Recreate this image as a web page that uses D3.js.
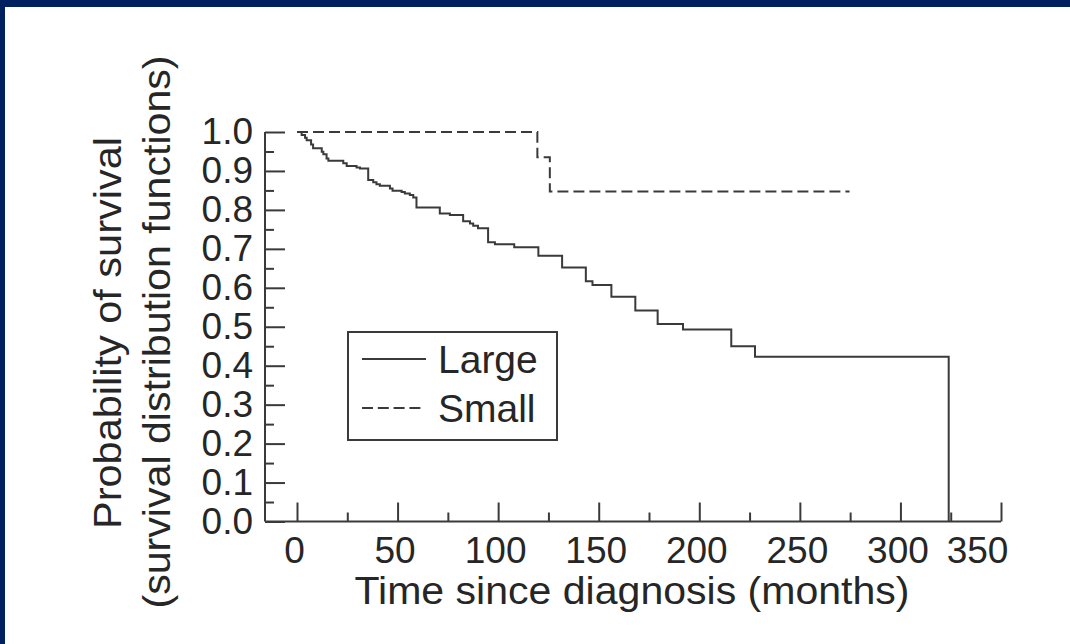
<!DOCTYPE html>
<html>
<head>
<meta charset="utf-8">
<script src="https://cdn.jsdelivr.net/npm/d3@7"></script>
<style>
  html, body { margin: 0; padding: 0; background: #fff; }
  svg { display: block; }
  text { font-family: "Liberation Sans", Arial, sans-serif; fill: #262626; }
</style>
</head>
<body>
<svg id="chart" width="1070" height="644"></svg>
<script>
// ---- data ----
const largeTimes = [0, 2.3, 4.0, 4.8, 7.0, 8.0, 12.3, 13.1, 14.7, 15.6, 23.0, 24.7, 29.6, 31.3, 35.4, 37.9, 39.5, 41.2, 46.2, 47.5, 52.0, 53.6, 56.1, 57.8, 59.4, 71.0, 76.0, 82.6, 86.0, 87.6, 90.0, 95.0, 98.4, 108.0, 120.0, 131.8, 143.6, 146.9, 156.3, 168.2, 179.3, 191.9, 215.9, 227.7, 324.0];
const largeSurv  = [1.0, 0.992, 0.985, 0.979, 0.968, 0.958, 0.949, 0.943, 0.932, 0.926, 0.920, 0.913, 0.909, 0.906, 0.877, 0.871, 0.866, 0.862, 0.855, 0.849, 0.846, 0.842, 0.838, 0.832, 0.806, 0.791, 0.787, 0.771, 0.765, 0.759, 0.753, 0.717, 0.712, 0.704, 0.682, 0.652, 0.617, 0.607, 0.577, 0.542, 0.507, 0.493, 0.450, 0.423, 0.0];
const smallTimes = [0, 119.5, 125.7, 274.7];
const smallSurv  = [1.0, 0.935, 0.847, 0.847];

const xTickValues = [0, 50, 100, 150, 200, 250, 300, 350];
const xTickLabels = ["0", "50", "100", "150", "200", "250", "300", "350"];
const xMinorTicks = [25, 75, 125, 175, 225, 275, 325];
const yTickValues = [0, 0.1, 0.2, 0.3, 0.4, 0.5, 0.6, 0.7, 0.8, 0.9, 1.0];
const yTickLabels = ["0.0", "0.1", "0.2", "0.3", "0.4", "0.5", "0.6", "0.7", "0.8", "0.9", "1.0"];
const yMinorTicks = [0.05, 0.15, 0.25, 0.35, 0.45, 0.55, 0.65, 0.75, 0.85, 0.95];
const seriesNames = ["Large", "Small"];
const xTitle = "Time since diagnosis (months)";
const yTitle1 = "Probability of survival";
const yTitle2 = "(survival distribution functions)";

// ---- layout ----
const svg = d3.select("#chart");
const ink = "#3a3a3a";
const font = '"Liberation Sans", Arial, sans-serif';
const axisX0 = 265;              // y-axis position
const x = d3.scaleLinear().domain([0, 350]).range([297, 1001]);
const y = d3.scaleLinear().domain([0, 1]).range([521.5, 132]);

// navy frame (top & left)
svg.append("rect").attr("x", 0).attr("y", 0).attr("width", 1070).attr("height", 7).attr("fill", "#00205f");
svg.append("rect").attr("x", 0).attr("y", 0).attr("width", 5).attr("height", 644).attr("fill", "#00205f");

// ---- x axis ----
const gx = svg.append("g").attr("transform", `translate(0,${y(0)})`);
gx.append("line").attr("x1", axisX0).attr("x2", x(350)).attr("y1", 0).attr("y2", 0)
  .attr("stroke", ink).attr("stroke-width", 2);
const xAxis = d3.axisBottom(x).tickValues(xTickValues)
  .tickFormat((d, i) => xTickLabels[i]).tickSizeInner(-19).tickSizeOuter(0).tickPadding(15);
const gxa = gx.append("g").call(xAxis);
gxa.select(".domain").remove();
gxa.selectAll(".tick line").attr("stroke", ink).attr("stroke-width", 2);
gxa.selectAll(".tick text").attr("font-size", 37).attr("fill", "#262626")
  .style("font-family", font)
  .attr("dx", d => d === 350 ? -24 : -3);
const gxm = gx.append("g").call(d3.axisBottom(x).tickValues(xMinorTicks).tickFormat("").tickSizeInner(-9).tickSizeOuter(0));
gxm.select(".domain").remove();
gxm.selectAll(".tick line").attr("stroke", ink).attr("stroke-width", 2);

// ---- y axis ----
const gy = svg.append("g").attr("transform", `translate(${axisX0},0)`);
gy.append("line").attr("x1", 0).attr("x2", 0).attr("y1", y(0)).attr("y2", y(1))
  .attr("stroke", ink).attr("stroke-width", 2);
const yAxis = d3.axisLeft(y).tickValues(yTickValues)
  .tickFormat((d, i) => yTickLabels[i]).tickSizeInner(-20).tickSizeOuter(0).tickPadding(12);
const gya = gy.append("g").call(yAxis);
gya.select(".domain").remove();
gya.selectAll(".tick line").attr("stroke", ink).attr("stroke-width", 2);
gya.selectAll(".tick text").attr("font-size", 37).attr("fill", "#262626")
  .style("font-family", font);
const gym = gy.append("g").call(d3.axisLeft(y).tickValues(yMinorTicks).tickFormat("").tickSizeInner(-9).tickSizeOuter(0));
gym.select(".domain").remove();
gym.selectAll(".tick line").attr("stroke", ink).attr("stroke-width", 2);

// ---- survival curves ----
const line = d3.line().x(d => x(d[0])).y(d => y(d[1])).curve(d3.curveStepAfter);
const largeData = largeTimes.map((t, i) => [t, largeSurv[i]]);
const smallData = smallTimes.map((t, i) => [t, smallSurv[i]]);
svg.append("path").datum(smallData).attr("d", line).attr("fill", "none")
  .attr("stroke", ink).attr("stroke-width", 2).attr("stroke-dasharray", "11,5");
svg.append("path").datum(largeData).attr("d", line).attr("fill", "none")
  .attr("stroke", ink).attr("stroke-width", 2);

// ---- legend ----
const lg = svg.append("g");
lg.append("rect").attr("x", 348).attr("y", 332).attr("width", 209).attr("height", 108)
  .attr("fill", "#fff").attr("stroke", ink).attr("stroke-width", 2);
lg.append("line").attr("x1", 362).attr("x2", 426).attr("y1", 359).attr("y2", 359)
  .attr("stroke", ink).attr("stroke-width", 2);
lg.append("line").attr("x1", 362).attr("x2", 421).attr("y1", 408).attr("y2", 408)
  .attr("stroke", ink).attr("stroke-width", 2).attr("stroke-dasharray", "11,4.8");
lg.append("text").attr("x", 438).attr("y", 373).attr("font-size", 39).text(seriesNames[0]);
lg.append("text").attr("x", 438).attr("y", 422).attr("font-size", 39).text(seriesNames[1]);

// ---- axis titles ----
svg.append("text").attr("x", 632).attr("y", 604).attr("text-anchor", "middle")
  .attr("font-size", 38).attr("textLength", 555).attr("lengthAdjust", "spacingAndGlyphs").text(xTitle);
svg.append("text").attr("transform", "translate(121,333) rotate(-90)").attr("text-anchor", "middle")
  .attr("font-size", 38).attr("textLength", 392).attr("lengthAdjust", "spacingAndGlyphs").text(yTitle1);
svg.append("text").attr("transform", "translate(170,332) rotate(-90)").attr("text-anchor", "middle")
  .attr("font-size", 38).attr("textLength", 553).attr("lengthAdjust", "spacingAndGlyphs").text(yTitle2);
</script>
</body>
</html>
